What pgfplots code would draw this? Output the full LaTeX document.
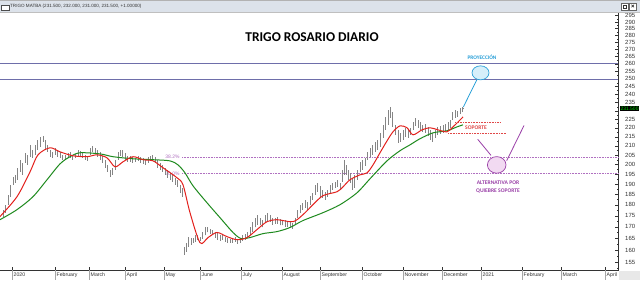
\documentclass[border=0pt]{standalone}
\usepackage{pgfplots}
\pgfplotsset{compat=1.18}
\usepackage{pgfplotstable}
\usepackage{fontspec}
\setmainfont{Liberation Sans}
\newfontfamily\calib{Carlito}
\definecolor{barcol}{HTML}{858585}
\definecolor{redma}{HTML}{E3201C}
\definecolor{greenma}{HTML}{1E8A1E}
\definecolor{slate}{HTML}{6E6EAA}
\definecolor{fibcol}{HTML}{B070C0}
\definecolor{soporte}{HTML}{E04848}
\definecolor{proj}{HTML}{2AA0D8}
\definecolor{projfill}{HTML}{D6EFFA}
\definecolor{alt}{HTML}{9A40A8}
\definecolor{altfill}{HTML}{F2DAF2}
\definecolor{tickcol}{HTML}{333333}
\definecolor{barbg}{HTML}{DCE2EA}

\pgfplotstableread{
x lo hi
3 174.6 177.8
5 176.4 180.1
8 180.1 184.8
10 183.9 189.7
13 189.7 193.7
15 190.7 194.7
17 192.2 198.3
20 196.2 202.5
22 194.7 200.9
25 200.9 206.2
27 199.8 205.1
30 204.1 210.5
32 203.5 207.8
35 205.1 210.5
37 207.8 213.3
40 209.4 215.0
43 212.2 215.5
45 207.8 213.3
47 206.7 210.5
50 204.1 207.8
52 203.5 206.7
55 205.1 208.9
57 204.1 207.8
60 203.5 206.7
62 202.5 205.1
65 202.5 205.1
68 203.5 206.2
70 203.5 206.7
72 202.5 205.1
75 203.5 205.6
78 204.6 207.8
80 204.6 207.3
82 203.5 206.7
85 202.5 205.1
87 201.9 204.6
90 205.1 208.9
92 206.7 210.0
95 205.6 208.9
97 204.1 207.8
100 202.5 206.7
102 200.9 204.6
105 198.3 202.5
107 196.2 199.8
110 193.7 197.3
112 194.7 198.3
115 197.3 202.5
118 202.5 206.7
120 204.6 207.8
122 204.1 207.8
125 202.5 206.2
127 201.4 204.6
130 201.4 204.6
132 200.9 204.1
135 201.4 203.5
138 201.9 204.6
140 200.9 204.1
143 200.3 203.5
145 199.8 202.5
148 200.9 204.1
150 201.9 204.6
152 201.9 205.1
155 200.9 204.1
157 198.3 202.5
160 197.3 200.9
162 196.2 199.8
165 194.7 198.3
167 193.2 197.3
170 192.2 195.7
172 191.2 194.7
175 189.7 193.2
177 188.7 192.2
180 185.8 189.7
182 183.9 188.2
184 158.1 161.4
186 159.4 163.1
188 161.4 165.7
191 162.3 165.3
193 163.1 165.3
195 163.6 166.6
197 164.4 166.2
200 164.0 165.7
202 164.9 167.5
205 166.2 169.7
207 167.5 170.1
210 167.0 169.2
212 166.2 168.8
215 165.3 167.9
217 164.4 167.5
220 164.0 166.2
222 164.4 166.6
225 163.6 165.7
227 163.1 165.3
230 163.1 164.9
232 163.1 165.3
235 163.6 165.7
237 162.7 164.9
240 163.1 165.3
242 164.0 166.2
245 164.4 167.0
247 165.3 167.9
250 166.2 169.7
252 167.9 172.3
255 169.7 174.1
257 171.0 175.5
260 170.6 174.1
262 169.7 173.2
265 171.9 175.5
267 172.8 176.4
270 172.3 175.5
272 171.0 174.1
275 171.4 174.1
277 171.4 174.6
280 170.6 173.7
282 170.6 173.2
285 170.1 173.2
287 170.1 172.8
290 169.7 172.3
292 169.2 171.9
295 171.4 174.1
297 174.1 177.8
300 176.4 180.1
302 177.8 181.0
305 178.7 182.5
307 177.8 181.5
310 180.1 184.4
312 182.5 185.8
315 184.8 189.7
317 186.3 190.7
320 183.9 189.2
322 183.4 187.3
325 182.5 186.3
327 183.9 187.3
330 185.8 189.7
332 187.3 190.7
335 188.2 191.2
337 188.7 192.2
340 187.3 190.7
342 191.2 197.3
344 194.7 202.5
346 194.7 199.8
348 192.2 197.3
350 190.7 195.7
352 187.3 193.2
354 188.2 194.7
357 192.2 197.3
360 196.2 201.4
362 197.3 202.5
365 199.3 203.5
367 202.5 206.7
370 204.1 208.9
372 205.1 210.5
375 206.7 212.2
377 207.8 213.3
380 209.4 217.2
383 214.4 221.8
385 218.9 226.4
388 221.8 230.6
390 225.8 232.4
392 220.6 229.4
395 216.1 221.8
398 211.6 218.9
400 212.2 217.2
403 213.3 218.9
405 215.0 220.1
408 214.4 218.9
410 216.1 220.1
413 218.9 223.5
415 221.2 225.8
418 220.1 224.7
420 218.9 223.5
422 217.8 221.8
425 217.2 222.4
428 215.5 220.6
430 213.3 218.9
432 212.2 217.2
435 214.4 218.9
437 216.1 220.6
440 216.7 221.2
443 217.2 221.8
445 218.4 222.4
448 218.9 223.5
450 220.1 224.7
452 224.7 229.4
455 225.8 230.6
457 226.4 230.0
460 228.2 231.8
462 229.4 232.4
463 231.0 232.0
}\bars

\pgfplotstableread{
x y
0 174.6
17 183.9
30 196.2
38 205.1
50 208.9
60 206.7
73 204.6
87 204.1
97 205.1
107 203.5
115 198.8
123 201.4
133 204.1
143 202.5
153 201.9
163 198.3
177 193.2
183 189.7
190 176.4
200 163.1
208 165.3
217 167.5
227 165.7
237 164.4
247 165.3
257 168.8
267 172.3
277 173.2
293 172.3
303 175.5
313 180.1
323 184.4
337 186.3
343 188.7
350 192.2
360 194.7
367 195.7
373 199.8
380 206.2
387 212.7
393 217.8
400 221.2
407 220.1
413 216.1
422 218.9
430 220.1
438 218.9
447 217.8
453 220.6
463 226.4
}\redma

\pgfplotstableread{
x y
0 173.2
17 177.8
33 183.9
47 192.2
60 200.3
70 204.1
80 206.2
100 205.6
113 204.1
133 203.0
153 202.5
170 201.9
178 199.8
185 195.7
193 189.2
207 181.0
220 174.1
233 167.5
241 164.9
250 165.3
263 167.0
277 167.9
290 169.7
303 172.8
323 176.4
340 180.1
357 185.8
370 192.7
387 201.9
400 207.3
410 210.5
420 213.9
433 217.2
447 218.4
457 220.6
463 221.8
}\greenma

\begin{document}
\begin{tikzpicture}[x=1bp,y=1bp]
\useasboundingbox (0,0) rectangle (640,280);
\fill[white] (0,0) rectangle (640,280);
\begin{axis}[
  at={(0bp,10bp)}, anchor=south west, scale only axis,
  width=618bp, height=258bp,
  xmin=0, xmax=618, ymode=log, ymin=151.9, ymax=297.7,
  clip=false, axis line style={draw=none},
  xtick={12,55,89,125,164,200,241,282,320,362,403,442,481,522,561,605},
  xticklabels={2020,February,March,April,May,June,July,August,September,October,November,December,2021,February,March,April},
  xtick pos=bottom, minor x tick num=3,
  x tick label style={anchor=north west, font=\fontsize{5.2}{6}\selectfont, text=tickcol, inner sep=0pt, xshift=1.5bp, yshift=-2.5bp},
  ytick={155,160,165,170,175,180,185,190,195,200,205,210,215,220,225,235,240,245,250,255,260,265,270,275,280,285,290,295},
  extra y ticks={230}, extra y tick labels={},
  minor ytick={152.5,157.5,...,297.5},
  ytick pos=right, yticklabel pos=right,
  yticklabel={\pgfmathparse{exp(\tick)}\pgfmathprintnumber[fixed,precision=0]{\pgfmathresult}},
  y tick label style={anchor=west, font=\fontsize{6}{7}\selectfont, text=tickcol, inner sep=0pt, xshift=7bp},
  major tick length=3bp, minor tick length=1.5bp,
  tick style={tickcol, line width=0.4bp},
  /pgf/number format/assume math mode=true,
]
% frame
\draw[tickcol, line width=0.5bp] (rel axis cs:0,0) -- (rel axis cs:1,0) -- (rel axis cs:1,1);
\pgfplotsinvokeforeach{12,55,89,125,164,200,241,282,320,362,403,442,481,522,561,605}{
  \draw[gray!70, line width=0.4bp] (axis cs:#1,151.9) -- ++(0bp,-10bp);
}
% horizontal objective lines
\draw[slate, line width=0.8bp] (axis cs:0,260) -- (axis cs:618,260);
\draw[slate, line width=0.8bp] (axis cs:0,250) -- (axis cs:618,250);
% fibonacci levels
\draw[fibcol, densely dotted, line width=0.6bp] (axis cs:182,204.0) -- (axis cs:618,204.0);
\draw[fibcol, densely dotted, line width=0.6bp] (axis cs:182,195.25) -- (axis cs:618,195.25);
\node[text=fibcol, font=\fontsize{5}{6}\selectfont, inner sep=0pt] at (axis cs:172.5,204.0) {38.2\%};
\node[text=fibcol, font=\fontsize{5}{6}\selectfont, inner sep=0pt] at (axis cs:172.5,195.25) {50.0\%};
% price bars (high-low)
\addplot[draw=none, only marks, mark=none, mark size=0pt, mark options={draw=none, fill=none}, forget plot,
  error bars/.cd, y dir=plus, y explicit, error mark=none,
  error bar style={draw=barcol, line width=0.45bp, solid}]
  table[x=x, y=lo, y error plus expr=\thisrow{hi}-\thisrow{lo}] {\bars};
% moving averages
\addplot[greenma, line width=1.0bp, smooth, mark=none] table[x=x, y=y] {\greenma};
\addplot[redma, line width=1.0bp, smooth, mark=none] table[x=x, y=y] {\redma};
% soporte
\draw[soporte, densely dotted, line width=0.6bp] (axis cs:455,223.1) -- (axis cs:500,223.1);
\draw[soporte, densely dotted, line width=0.6bp] (axis cs:448,217.0) -- (axis cs:507,217.0);
\node[text=soporte, font=\calib\bfseries\fontsize{5.6}{6}\selectfont, inner sep=0pt] at (axis cs:476,220.1) {SOPORTE};
% projection
\draw[proj, line width=0.8bp] (axis cs:463.3,232.3) -- (axis cs:476.7,249.3);
\draw[proj, fill=projfill, line width=0.7bp] (axis cs:480.5,254.0) ellipse [x radius=8.5bp, y radius=7bp];
\node[text=proj, font=\calib\bfseries\fontsize{5.4}{6}\selectfont, inner sep=0pt] at (axis cs:482,264.7) {PROYECCIÓN};
% alternative
\draw[alt, line width=0.8bp] (axis cs:477.7,213.6) -- (axis cs:491,204.8);
\draw[alt, line width=0.8bp] (axis cs:524,221.4) -- (axis cs:506.7,202.0);
\draw[alt, fill=altfill, line width=0.7bp] (axis cs:496.7,199.8) ellipse [x radius=9.3bp, y radius=8.3bp];
\node[text=alt, font=\calib\bfseries\fontsize{5.6}{8.4}\selectfont, inner sep=0pt, align=center] at (axis cs:498,188.6) {ALTERNATIVA POR\\QUIEBRE SOPORTE};
% last price
\node[fill=black, text=green!85!black, font=\fontsize{5}{6}\selectfont, inner sep=0.8bp, anchor=west] at (axis cs:619.5,231.5) {231.500};
% title
\node[font=\calib\bfseries\fontsize{13.5}{15}\selectfont, inner sep=0pt] at (axis cs:312,278.9) {TRIGO ROSARIO DIARIO};
\end{axis}
% bottom-right box
\fill[gray!18] (618.5,0) rectangle (640,9.5);
% window title bar
\fill[barbg] (0,268) rectangle (640,280);
\draw[gray!60, line width=0.6bp] (0,279.7) -- (640,279.7);
\draw[gray!50, line width=0.4bp] (0,268) -- (640,268);
\draw[black!70, fill=white, line width=0.4bp] (1,270) rectangle (9,275);
\node[anchor=west, font=\fontsize{4.6}{5}\selectfont, text=black!80, inner sep=0pt] at (10,273.5) {TRIGO MATBA (231.500, 232.000, 231.000, 231.500, +1.00000)};
\draw[black!60, fill=white, line width=0.3bp] (621,269.5) rectangle (628,277);
\draw[black!80, line width=0.4bp] (623,271.5) rectangle (626,275);
\draw[black!60, fill=white, line width=0.3bp] (629,269.5) rectangle (636.5,277);
\node[font=\bfseries\fontsize{6}{6}\selectfont, inner sep=0pt] at (632.75,273.25) {×};
\end{tikzpicture}
\end{document}
